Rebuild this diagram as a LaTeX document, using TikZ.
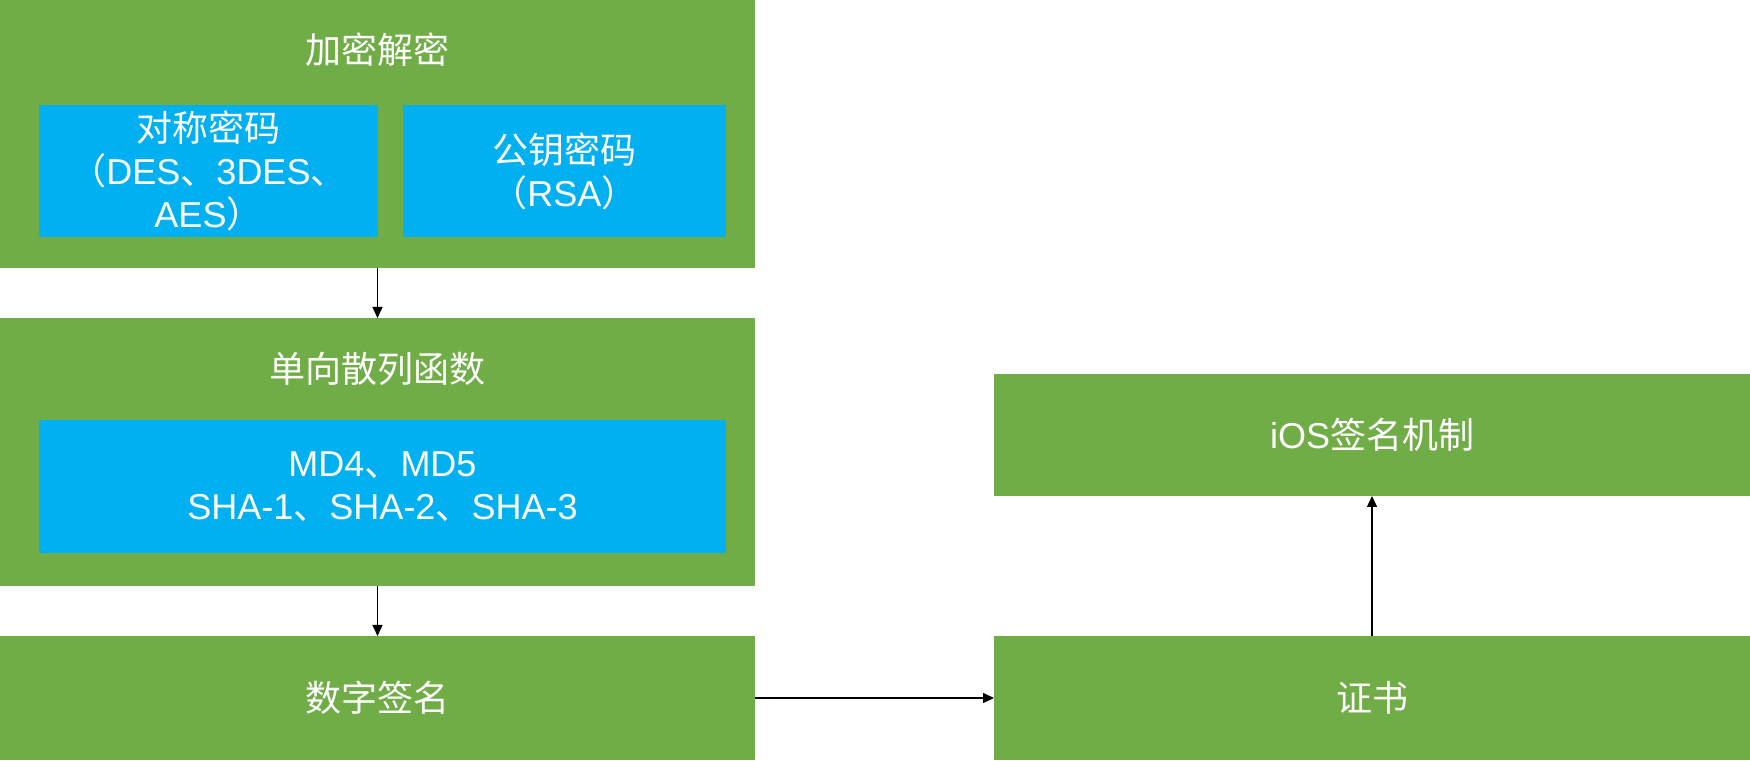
\documentclass[tikz,border=0pt]{standalone}
\usepackage{fontspec}
\setmainfont{Liberation Sans}
\newfontfamily\cjk{Noto Sans CJK SC}
\usepackage{tikz}
\usetikzlibrary{arrows.meta,positioning}
\usepackage{xcolor}
\definecolor{boxgreen}{RGB}{112,173,71}
\definecolor{boxblue}{RGB}{0,176,240}
\newcommand{\zh}[1]{{\cjk #1}}
\tikzstyle{groupbox} = [rectangle, fill=boxgreen, inner sep=0pt, outer sep=0pt, text=white, font=\fontsize{36}{43}\selectfont, align=center]
\tikzstyle{algobox} = [rectangle, fill=boxblue, inner sep=0pt, outer sep=0pt, text=white, font=\fontsize{36}{43}\selectfont, align=center, anchor=north west]
\tikzstyle{heading} = [inner sep=0pt, text=white, font=\fontsize{36}{43}\selectfont]
\tikzstyle{arrow} = [line width=1.5pt, -{Triangle[length=11pt,width=10pt]}, color=black]

\begin{document}
\begin{tikzpicture}[x=1pt, y=1pt]
\useasboundingbox (0,0) rectangle (1750,760);
% Left column
\node (crypto) [groupbox, minimum width=755pt, minimum height=268pt, anchor=north west] at (0,760) {};
\node (hash) [groupbox, minimum width=755pt, minimum height=268pt, below=50pt of crypto] {};
\node (sign) [groupbox, minimum width=755pt, minimum height=124pt, below=50pt of hash] {\zh{数字签名}};

% Right column
\node (cert) [groupbox, minimum width=756pt, minimum height=124pt, right=239pt of sign] {\zh{证书}};
\node (ios) [groupbox, minimum width=756pt, minimum height=122pt, above=140pt of cert] {iOS\zh{签名机制}};

% Titles
\node (cryptotitle) [heading, below=50pt of crypto.north, anchor=center] {\zh{加密解密}};
\node (hashtitle) [heading, below=51pt of hash.north, anchor=center] {\zh{单向散列函数}};

% Algorithms
\node (symm) [algobox, minimum width=339pt, minimum height=132pt, below right=105pt and 39pt of crypto.north west] {\zh{对称密码}\\\zh{（}DES\zh{、}3DES\zh{、}\\AES\zh{）}};
\node (pubkey) [algobox, minimum width=323pt, minimum height=132pt, right=25pt of symm] {\zh{公钥密码}\\\zh{（}RSA\zh{）}};
\node (digest) [algobox, minimum width=687pt, minimum height=133pt, below right=102pt and 39pt of hash.north west] {MD4\zh{、}MD5\\SHA-1\zh{、}SHA-2\zh{、}SHA-3};

% Arrows
\draw[arrow] (crypto) -- (hash);
\draw[arrow] (hash) -- (sign);
\draw[arrow] (sign) -- (cert);
\draw[arrow] (cert) -- (ios);
\end{tikzpicture}
\end{document}
